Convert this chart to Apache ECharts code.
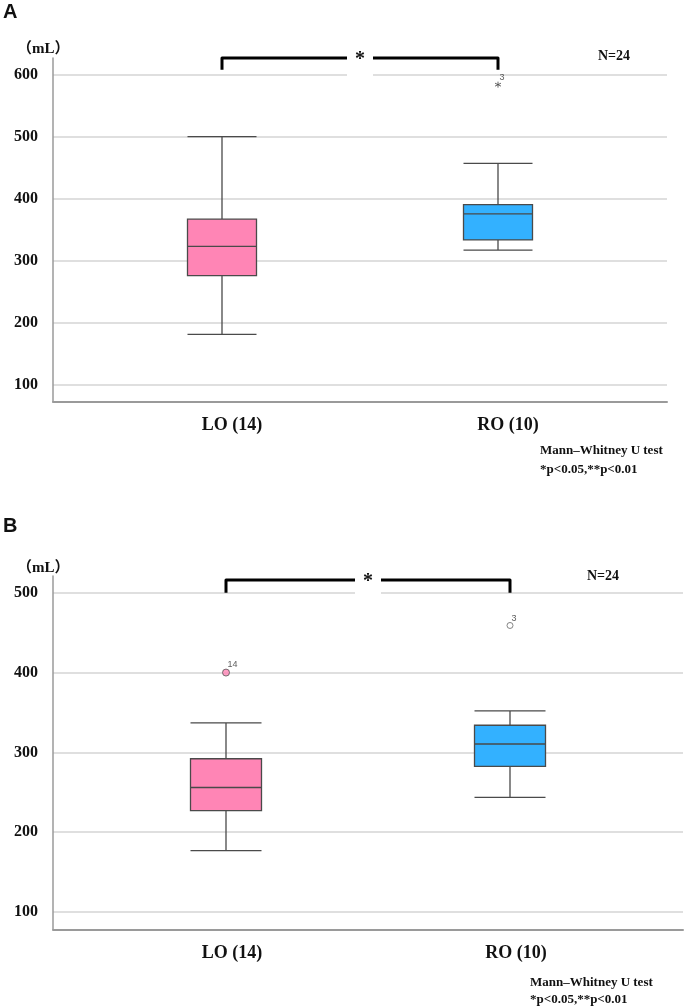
<!DOCTYPE html>
<html><head><meta charset="utf-8">
<script src="https://cdn.jsdelivr.net/npm/echarts@6/dist/echarts.min.js"></script>
<style>html,body{margin:0;padding:0;background:#fff}#c{width:685px;height:1006px}</style>
</head><body><div id="c"></div>
<script>
const categories = ['LO (14)', 'RO (10)'];
// [min, Q1, median, Q3, max]
const boxA = [[181, 276, 323, 367, 500], [317, 333.5, 375.5, 390.5, 457]];
const boxB = [[177, 227, 256, 292, 337], [243.5, 282.5, 310.5, 334, 352]];
// outliers: [categoryIndex, value, caseLabel]
const outA = [[1, 584, '3']];
const outB_LO = [[0, 400, '14']];
const outB_RO = [[1, 459, '3']];
const ticksA = [100, 200, 300, 400, 500, 600];
const ticksB = [100, 200, 300, 400, 500];
const bracketA = [[0, 608], [0, 627], [1, 627], [1, 608]];
const bracketB = [[0, 500], [0, 516], [1, 516], [1, 500]];

const serif = '"Liberation Serif","Times New Roman",serif';
const colors = ['#FF85B5', '#33B1FF'];

function mainAxes(grid, min, max, ticks) {
  return {
    x: {type: 'value', gridIndex: grid, min: 0, max: 1, axisLabel: {show: false}, axisTick: {show: false}, splitLine: {show: false},
        axisLine: {show: true, onZero: false, lineStyle: {color: '#9a9a9a', width: 2}}},
    y: {type: 'value', gridIndex: grid, min: min, max: max,
        axisLine: {show: true, lineStyle: {color: '#9a9a9a', width: 1.5}},
        axisTick: {show: false, customValues: ticks},
        axisLabel: {customValues: ticks, fontFamily: serif, fontWeight: 'bold', fontSize: 16, color: '#111', margin: 15},
        splitLine: {show: true, lineStyle: {color: '#d4d4d4', width: 1.5}}}
  };
}
function innerAxes(grid, min, max, pad) {
  return {
    x: {type: 'category', gridIndex: grid, data: categories, axisLine: {show: false}, axisTick: {show: false}, splitLine: {show: false},
        axisLabel: {fontFamily: serif, fontWeight: 'bold', fontSize: 18, color: '#111', margin: 15, padding: [0, 0, 0, pad]}},
    y: {type: 'value', gridIndex: grid, min: min, max: max, show: false, splitLine: {show: false}}
  };
}
const mA = mainAxes(0, 72.5, 627, ticksA), iA = innerAxes(1, 72.5, 627, 20);
const mB = mainAxes(2, 78.3, 521, ticksB), iB = innerAxes(3, 78.3, 521, 12);

function boxSeries(data, axis) {
  return {type: 'boxplot', xAxisIndex: axis, yAxisIndex: axis, boxWidth: ['25%', '25%'],
    data: data.map((d, i) => ({value: d, itemStyle: {color: colors[i], borderColor: '#4a4a4a', borderWidth: 1.3}})),
    silent: true};
}
function bracket(data, axis) {
  return {type: 'line', xAxisIndex: axis, yAxisIndex: axis, data: data, symbol: 'none', clip: false, silent: true,
    lineStyle: {color: '#000', width: 3, join: 'round', cap: 'butt'}, z: 5};
}
const starPath = 'path://M0,-1L0,1M-0.87,-0.5L0.87,0.5M-0.87,0.5L0.87,-0.5';
function outlier(data, axis, symbol, fill, border, size) {
  return {type: 'scatter', xAxisIndex: axis, yAxisIndex: axis, symbol: symbol, symbolSize: size, silent: true, z: 6,
    data: data.map(d => ({value: [d[0], d[1]], name: d[2]})),
    itemStyle: {color: fill, borderColor: border, borderWidth: 1},
    label: {show: true, formatter: p => p.name, position: [size / 2 + 2, -size - 2], fontSize: 9, color: '#333', fontFamily: '"Liberation Sans",Arial,sans-serif'}};
}

const chart = echarts.init(document.getElementById('c'), null, {renderer: 'canvas'});
chart.setOption({
  animation: false,
  grid: [
    {left: 53, right: 18, top: 58, bottom: 604.3},
    {left: 84, right: 49, top: 58, bottom: 604.3},
    {left: 53, right: 2, top: 576, bottom: 76.7},
    {left: 84, right: 33, top: 576, bottom: 76.7}
  ],
  xAxis: [mA.x, iA.x, mB.x, iB.x],
  yAxis: [mA.y, iA.y, mB.y, iB.y],
  series: [
    boxSeries(boxA, 1),
    boxSeries(boxB, 3),
    bracket(bracketA, 1),
    bracket(bracketB, 3),
    outlier(outA, 1, starPath, 'transparent', '#444', 6),
    outlier(outB_LO, 3, 'circle', '#FF85B5', '#555', 7),
    outlier(outB_RO, 3, 'circle', '#fff', '#666', 6)
  ]
});

function starAt(axis, br, gridVal) {
  const l = chart.convertToPixel({xAxisIndex: axis, yAxisIndex: axis}, br[1]);
  const r = chart.convertToPixel({xAxisIndex: axis, yAxisIndex: axis}, br[2]);
  const g = chart.convertToPixel({xAxisIndex: axis, yAxisIndex: axis}, [0, gridVal]);
  const cx = (l[0] + r[0]) / 2;
  return [
    {type: 'rect', z: 50, shape: {x: cx - 13, y: l[1] - 8, width: 26, height: g[1] - l[1] + 11}, style: {fill: '#fff'}},
    {type: 'text', z: 51, x: cx, y: l[1] + 2, style: {text: '*', font: 'bold 20px ' + serif, fill: '#111', align: 'center', verticalAlign: 'middle'}}
  ];
}
const txt = (x, y, text, font, align) => ({type: 'text', x: x, y: y, z: 60,
  style: {text: text, font: font, fill: '#111', align: align || 'left', verticalAlign: 'middle'}});
const unitFont = 'bold 15px "Liberation Serif","Noto Sans CJK JP",serif';
const noteFont = 'bold 13px ' + serif;
chart.setOption({
  graphic: [].concat(
    starAt(1, bracketA, 600),
    starAt(3, bracketB, 500),
    [
      txt(3, 12, 'A', 'bold 20px "Liberation Sans",Arial,sans-serif'),
      txt(3, 526, 'B', 'bold 20px "Liberation Sans",Arial,sans-serif'),
      txt(17, 49, '（mL）', unitFont),
      txt(17, 568, '（mL）', unitFont),
      txt(598, 56, 'N=24', 'bold 14px ' + serif),
      txt(587, 576, 'N=24', 'bold 14px ' + serif),
      txt(540, 451, 'Mann–Whitney U test', noteFont),
      txt(540, 470, '*p<0.05,**p<0.01', noteFont),
      txt(530, 983, 'Mann–Whitney U test', noteFont),
      txt(530, 1000, '*p<0.05,**p<0.01', noteFont)
    ]
  )
});
</script></body></html>
